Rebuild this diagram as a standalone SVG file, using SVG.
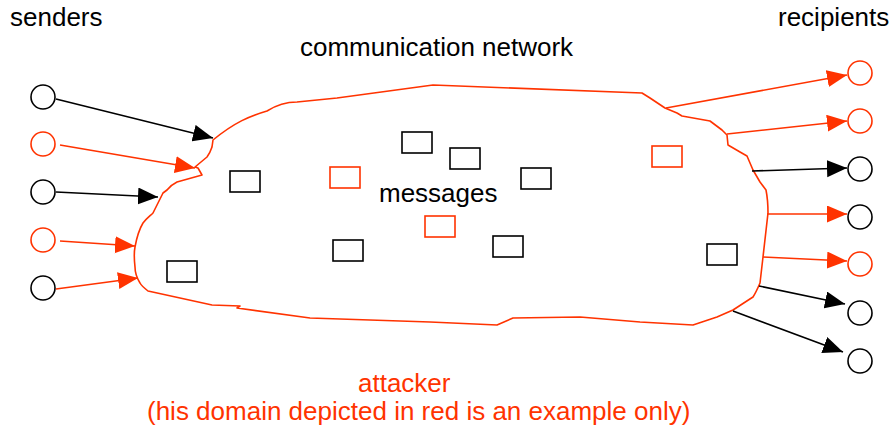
<svg xmlns="http://www.w3.org/2000/svg" width="895" height="430" viewBox="0 0 895 430">
<style>
  text { font-family: "Liberation Sans", Arial, sans-serif; font-size: 26px; fill: #000; }
  text.red { fill: #ff3300; }
  .node { fill: #fff; stroke-width: 1.6; }
  .blk { stroke: #000; }
  .rd { stroke: #ff3300; }
  .msg { fill: #fff; stroke-width: 1.6; }
  .edge { fill: none; stroke-width: 1.6; }
  .cloud { fill: none; stroke: #ff3300; stroke-width: 1.6; stroke-linejoin: round; }
</style>
<defs>
  <marker id="ab" markerUnits="userSpaceOnUse" markerWidth="22" markerHeight="18" refX="20" refY="8.5" orient="auto" viewBox="0 0 22 18">
    <path d="M0,0 L20,8.5 L0,17 z" fill="#000"/>
  </marker>
  <marker id="ar" markerUnits="userSpaceOnUse" markerWidth="22" markerHeight="18" refX="20" refY="8.5" orient="auto" viewBox="0 0 22 18">
    <path d="M0,0 L20,8.5 L0,17 z" fill="#ff3300"/>
  </marker>
</defs>
<rect width="895" height="430" fill="#fff"/>

<g id="network">
  <path class="cloud" d="M213,140 C235,122 250,116 267,111 C278,104 290,102 297,102 L337,98 L433,85 L642,93 L650,98 L665,108 L677,113 L682,116 L710,121 L722,130 L727,135 L728,145 L740,152 L747,156 L753,170 L760,182 L766,190 C768,200 768,207 768,213 L763,257 L760,283 C757,290 755,294 753,297 L733,310 L717,317 L693,325 L640,322 L580,317 L513,318 L497,325 L430,322 L310,318 L237,308 L240,306 L212,305 L148,291 C143,287 141,285 140,283 C135,275 135,270 135,267 C134,258 134,252 135,247 C137,236 140,228 143,223 C147,218 150,216 153,213 L163,193 L167,190 C170,186 173,184 177,182 L202,175 L198,168 L195,167 L207,157 C210,153 211,150 212,147 Z"/>
</g>

<g id="senders">
  <circle class="node blk" cx="43" cy="97" r="12"/>
  <circle class="node rd" cx="43" cy="144" r="12"/>
  <circle class="node blk" cx="43" cy="192" r="12"/>
  <circle class="node rd" cx="43" cy="240" r="12"/>
  <circle class="node blk" cx="43" cy="288" r="12"/>
</g>

<g id="recipients">
  <circle class="node rd" cx="860" cy="73" r="12"/>
  <circle class="node rd" cx="860" cy="121" r="12"/>
  <circle class="node blk" cx="860" cy="169" r="12"/>
  <circle class="node blk" cx="860" cy="217" r="12"/>
  <circle class="node rd" cx="860" cy="264" r="12"/>
  <circle class="node blk" cx="860" cy="313" r="12"/>
  <circle class="node blk" cx="860" cy="361" r="12"/>
</g>

<g id="messages">
  <rect class="msg blk" x="230" y="171" width="30" height="21"/>
  <rect class="msg blk" x="402" y="132" width="30" height="21"/>
  <rect class="msg blk" x="450" y="148" width="30" height="21"/>
  <rect class="msg blk" x="521" y="168" width="30" height="21"/>
  <rect class="msg blk" x="333" y="240" width="30" height="21"/>
  <rect class="msg blk" x="493" y="236" width="30" height="21"/>
  <rect class="msg blk" x="167" y="261" width="30" height="21"/>
  <rect class="msg blk" x="707" y="244" width="30" height="21"/>
  <rect class="msg rd" x="330" y="167" width="30" height="21"/>
  <rect class="msg rd" x="425" y="216" width="30" height="21"/>
  <rect class="msg rd" x="652" y="146" width="30" height="21"/>
</g>

<g id="connectors">
  <line class="edge blk" x1="56" y1="99" x2="213" y2="138" marker-end="url(#ab)"/>
  <line class="edge rd" x1="60" y1="145" x2="195" y2="168" marker-end="url(#ar)"/>
  <line class="edge blk" x1="56" y1="192" x2="158" y2="197" marker-end="url(#ab)"/>
  <line class="edge rd" x1="60" y1="241" x2="135" y2="246" marker-end="url(#ar)"/>
  <line class="edge rd" x1="56" y1="289" x2="138" y2="278" marker-end="url(#ar)"/>

  <line class="edge rd" x1="666" y1="108" x2="847" y2="75" marker-end="url(#ar)"/>
  <line class="edge rd" x1="727" y1="134" x2="847" y2="121" marker-end="url(#ar)"/>
  <line class="edge blk" x1="752" y1="171" x2="847" y2="168" marker-end="url(#ab)"/>
  <line class="edge rd" x1="767" y1="214" x2="847" y2="214" marker-end="url(#ar)"/>
  <line class="edge rd" x1="763" y1="257" x2="847" y2="261" marker-end="url(#ar)"/>
  <line class="edge blk" x1="759" y1="286" x2="845" y2="304" marker-end="url(#ab)"/>
  <line class="edge blk" x1="733" y1="311" x2="843" y2="352" marker-end="url(#ab)"/>
</g>

<g id="labels">
  <text x="10" y="26">senders</text>
  <text x="778" y="26">recipients</text>
  <text x="300" y="56">communication network</text>
  <text x="379" y="202">messages</text>
  <text class="red" x="358" y="392">attacker</text>
  <text class="red" x="147" y="420">(his domain depicted in red is an example only)</text>
</g>
</svg>
